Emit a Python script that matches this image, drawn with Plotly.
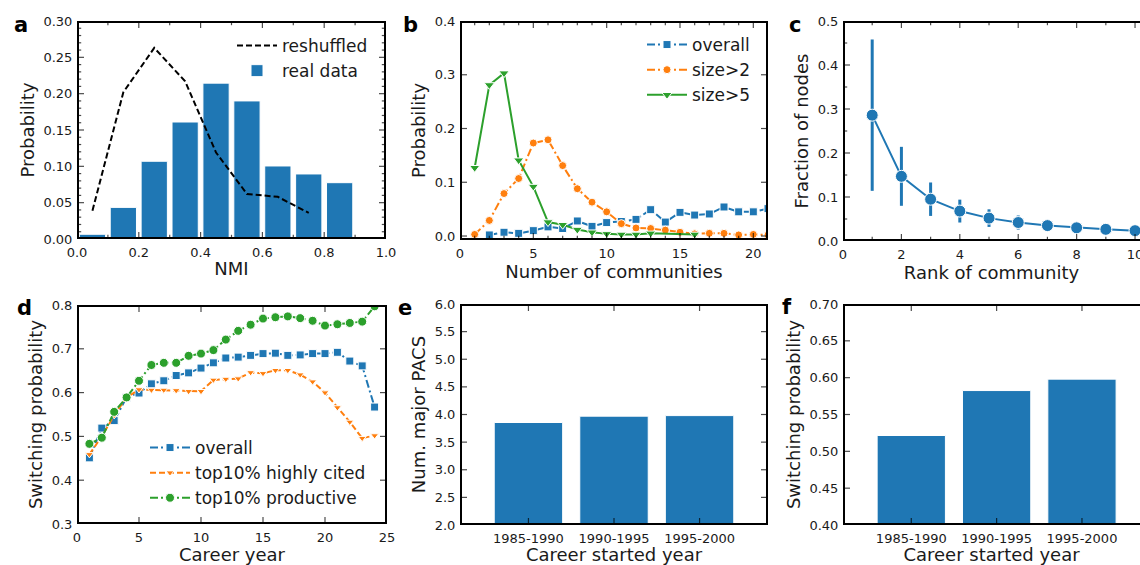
import plotly.graph_objects as go

W, H = 1140, 565

# ---------------- data ----------------
nmi_bins = [0.05, 0.15, 0.25, 0.35, 0.45, 0.55, 0.65, 0.75, 0.85]
nmi_real = [0.0065, 0.0435, 0.107, 0.161, 0.2145, 0.190, 0.1005, 0.0895, 0.0775]
nmi_shuf_x = [0.05, 0.15, 0.25, 0.35, 0.45, 0.55, 0.65, 0.75]
nmi_shuf = [0.039, 0.202, 0.263, 0.217, 0.119, 0.062, 0.058, 0.036]

nc_overall_x = list(range(2, 22))
nc_overall = [0.002, 0.007, 0.005, 0.010, 0.017, 0.014, 0.028, 0.018, 0.025, 0.027,
              0.031, 0.049, 0.026, 0.044, 0.039, 0.041, 0.054, 0.045, 0.045, 0.051]
nc_size2_x = list(range(1, 22))
nc_size2 = [0.003, 0.029, 0.079, 0.107, 0.173, 0.179, 0.131, 0.088, 0.063, 0.045, 0.023,
            0.015, 0.014, 0.011, 0.007, 0.004, 0.005, 0.005, 0.002, 0.003, 0.002]
nc_size5_x = [1, 2, 3, 4, 5, 6, 7, 8, 9, 10, 11, 12, 13, 16]
nc_size5 = [0.127, 0.281, 0.303, 0.141, 0.092, 0.026, 0.021, 0.012, 0.007, 0.004,
            0.003, 0.003, 0.005, 0.003]

rank = [1, 2, 3, 4, 5, 6, 7, 8, 9, 10]
frac_nodes = [0.286, 0.147, 0.095, 0.068, 0.052, 0.042, 0.035, 0.030, 0.0265, 0.0235]
frac_err = [0.172, 0.067, 0.038, 0.026, 0.020, 0.016, 0.012, 0.010, 0.008, 0.007]

career_year = list(range(1, 25))
sw_overall = [0.451, 0.519, 0.536, 0.589, 0.599, 0.620, 0.627, 0.639, 0.645, 0.656, 0.668, 0.679,
              0.681, 0.685, 0.689, 0.690, 0.685, 0.686, 0.689, 0.689, 0.692, 0.672, 0.661, 0.567]
sw_cited = [0.459, 0.500, 0.548, 0.589, 0.607, 0.606, 0.606, 0.605, 0.603, 0.603, 0.629, 0.631,
            0.632, 0.646, 0.644, 0.651, 0.651, 0.641, 0.625, 0.600, 0.566, 0.533, 0.496, 0.502]
sw_prod = [0.483, 0.497, 0.556, 0.589, 0.627, 0.663, 0.668, 0.668, 0.684, 0.689, 0.697, 0.721,
           0.741, 0.755, 0.769, 0.772, 0.774, 0.770, 0.764, 0.753, 0.756, 0.759, 0.762, 0.797]

start_periods = ["1985-1990", "1990-1995", "1995-2000"]
start_pos = [0, 1, 2]
num_pacs = [3.855, 3.97, 3.98]
sw_by_start = [0.5215, 0.5825, 0.598]

# axis ranges
range_a_x, range_a_y = [0, 1.0], [0, 0.30]
range_b_x, range_b_y = [0, 21], [-0.0074, 0.4]
range_c_x, range_c_y = [0, 10.17], [0, 0.5]
range_d_x, range_d_y = [0, 25], [0.3, 0.8]
range_e_x, range_e_y = [-0.8, 2.8], [2.0, 6.0]
range_f_x, range_f_y = [-0.8, 2.68], [0.40, 0.70]

# tick values (major, minor)
ticks_a_x = [0.0, 0.2, 0.4, 0.6, 0.8, 1.0]
ticks_a_x_minor = [0.1, 0.3, 0.5, 0.7, 0.9]
ticks_a_y = [0.0, 0.05, 0.10, 0.15, 0.20, 0.25, 0.30]
ticks_a_y_minor = [0.01, 0.02, 0.03, 0.04, 0.06, 0.07, 0.08, 0.09, 0.11, 0.12, 0.13, 0.14,
                   0.16, 0.17, 0.18, 0.19, 0.21, 0.22, 0.23, 0.24, 0.26, 0.27, 0.28, 0.29]
ticks_b_x = [0, 5, 10, 15, 20]
ticks_b_x_minor = [1, 2, 3, 4, 6, 7, 8, 9, 11, 12, 13, 14, 16, 17, 18, 19, 21]
ticks_b_y = [0.0, 0.1, 0.2, 0.3, 0.4]
ticks_c_x = [0, 2, 4, 6, 8, 10]
ticks_c_x_minor = [1, 3, 5, 7, 9]
ticks_c_y = [0.0, 0.1, 0.2, 0.3, 0.4, 0.5]
ticks_c_y_minor = [0.05, 0.15, 0.25, 0.35, 0.45]
ticks_d_x = [0, 5, 10, 15, 20, 25]
ticks_d_y = [0.3, 0.4, 0.5, 0.6, 0.7, 0.8]
ticks_e_y = [2.0, 2.5, 3.0, 3.5, 4.0, 4.5, 5.0, 5.5, 6.0]
ticks_f_y = [0.40, 0.45, 0.50, 0.55, 0.60, 0.65, 0.70]

# ---------------- style ----------------
BLUE, ORANGE, GREEN = "#1f77b4", "#ff7f0e", "#2ca02c"
FONT = "DejaVu Sans"
TXT = "#1a1a1a"
DASHDOT = "8px,3px,2px,3px"
MAJ, MIN = 10, 6   # marker sizes for tick marks (half of it is visible inside the frame)


def xd(x0, x1):
    return [x0 / W, min(x1 / W, 1.0)]


def yd(top, bottom):
    return [1 - bottom / H, 1 - top / H]


def ax(domain, rng, title, standoff=4, **kw):
    d = dict(domain=domain, range=rng, showline=True, linewidth=2, linecolor="rgba(0,0,0,0)",
             ticks="inside", ticklen=5, tickwidth=1, tickcolor="rgba(0,0,0,0)",
             tickfont=dict(family=FONT, size=13, color=TXT), showgrid=False, zeroline=False,
             automargin=False,
             title=dict(text=title, font=dict(family=FONT, size=18, color=TXT), standoff=standoff))
    d.update(kw)
    return d


fig = go.Figure()

# ---- a ----
fig.add_trace(go.Bar(x=nmi_bins, y=nmi_real, width=0.085, name="real data",
                     marker=dict(color=BLUE, line=dict(color="white", width=1)),
                     xaxis="x", yaxis="y", legend="legend"))
fig.add_trace(go.Scatter(x=nmi_shuf_x, y=nmi_shuf, mode="lines", name="reshuffled",
                         line=dict(color="black", width=2, dash="6px,3px"),
                         xaxis="x", yaxis="y", legend="legend"))

# ---- b ----
mk_line = dict(color="white", width=1)
fig.add_trace(go.Scatter(x=nc_overall_x, y=nc_overall, mode="lines+markers", name="overall",
                         line=dict(color=BLUE, width=2, dash=DASHDOT),
                         marker=dict(symbol="square", size=8, color=BLUE, line=mk_line),
                         xaxis="x2", yaxis="y2", legend="legend2"))
fig.add_trace(go.Scatter(x=nc_size2_x, y=nc_size2, mode="lines+markers", name="size>2",
                         line=dict(color=ORANGE, width=2, dash=DASHDOT),
                         marker=dict(symbol="circle", size=8, color=ORANGE, line=mk_line),
                         xaxis="x2", yaxis="y2", legend="legend2"))
fig.add_trace(go.Scatter(x=nc_size5_x, y=nc_size5, mode="lines+markers", name="size>5",
                         line=dict(color=GREEN, width=2),
                         marker=dict(symbol="triangle-down", size=9, color=GREEN, line=mk_line),
                         xaxis="x2", yaxis="y2", legend="legend2"))

# ---- c ----
fig.add_trace(go.Scatter(x=rank, y=frac_nodes, mode="lines+markers", showlegend=False,
                         line=dict(color=BLUE, width=2),
                         marker=dict(symbol="circle", size=12, color=BLUE, line=mk_line),
                         error_y=dict(type="data", array=frac_err, color=BLUE, thickness=3, width=0),
                         xaxis="x3", yaxis="y3"))

# ---- d ----
fig.add_trace(go.Scatter(x=career_year, y=sw_overall, mode="lines+markers", name="overall",
                         line=dict(color=BLUE, width=2, dash=DASHDOT),
                         marker=dict(symbol="square", size=8, color=BLUE, line=mk_line),
                         xaxis="x4", yaxis="y4", legend="legend3"))
fig.add_trace(go.Scatter(x=career_year, y=sw_cited, mode="lines+markers", name="top10% highly cited",
                         line=dict(color=ORANGE, width=2, dash="6px,3px"),
                         marker=dict(symbol="triangle-down", size=7, color=ORANGE, line=mk_line),
                         xaxis="x4", yaxis="y4", legend="legend3"))
fig.add_trace(go.Scatter(x=career_year, y=sw_prod, mode="lines+markers", name="top10% productive",
                         line=dict(color=GREEN, width=2, dash=DASHDOT),
                         marker=dict(symbol="circle", size=9, color=GREEN, line=mk_line),
                         xaxis="x4", yaxis="y4", legend="legend3"))

# ---- e ----
fig.add_trace(go.Bar(x=start_pos, y=num_pacs, width=0.8, showlegend=False,
                     marker=dict(color=BLUE, line=dict(color="white", width=1)),
                     xaxis="x5", yaxis="y5"))
# ---- f ----
fig.add_trace(go.Bar(x=start_pos, y=sw_by_start, width=0.8, showlegend=False,
                     marker=dict(color=BLUE, line=dict(color="white", width=1)),
                     xaxis="x6", yaxis="y6"))


# ---- frames and inward tick marks, drawn on each subplot's own scales ----
def frame_and_ticks(xa, ya, xr, yr, xt, yt, xt_min=(), yt_min=(), closed=True):
    x0, x1 = xr
    y0, y1 = yr
    if closed:
        fx, fy = [x0, x1, x1, x0, x0], [y0, y0, y1, y1, y0]
    else:
        fx, fy = [x1, x0, x0, x1], [y1, y1, y0, y0]
    fig.add_trace(go.Scatter(x=fx, y=fy, mode="lines", line=dict(color="black", width=4),
                             showlegend=False, hoverinfo="skip", xaxis=xa, yaxis=ya))
    xs, ys, sym, size = [], [], [], []
    for vals, s in ((xt, MAJ), (xt_min, MIN)):
        for v in vals:
            for yy in (y0, y1):
                xs.append(v); ys.append(yy); sym.append("line-ns"); size.append(s)
    ysides = (x0, x1) if closed else (x0,)
    for vals, s in ((yt, MAJ), (yt_min, MIN)):
        for v in vals:
            for xx in ysides:
                xs.append(xx); ys.append(v); sym.append("line-ew"); size.append(s)
    fig.add_trace(go.Scatter(x=xs, y=ys, mode="markers", showlegend=False, hoverinfo="skip",
                             marker=dict(symbol=sym, size=size, color="black",
                                         line=dict(color="black", width=1.2)),
                             cliponaxis=True, xaxis=xa, yaxis=ya))


frame_and_ticks("x", "y", range_a_x, range_a_y, ticks_a_x, ticks_a_y, ticks_a_x_minor, ticks_a_y_minor)
frame_and_ticks("x2", "y2", range_b_x, range_b_y, ticks_b_x, ticks_b_y, ticks_b_x_minor)
frame_and_ticks("x3", "y3", range_c_x, range_c_y, ticks_c_x, ticks_c_y, ticks_c_x_minor, ticks_c_y_minor,
                closed=False)
frame_and_ticks("x4", "y4", range_d_x, range_d_y, ticks_d_x, ticks_d_y)
frame_and_ticks("x5", "y5", range_e_x, range_e_y, start_pos, ticks_e_y)
frame_and_ticks("x6", "y6", range_f_x, range_f_y, start_pos, ticks_f_y, closed=False)

layout = dict(
    template="none",
    width=W, height=H, margin=dict(l=0, r=0, t=0, b=0),
    paper_bgcolor="white", plot_bgcolor="white", showlegend=True,
    font=dict(family=FONT, color=TXT),
    barmode="overlay",
    xaxis=ax(xd(77, 386), range_a_x, "NMI", anchor="y", tickvals=ticks_a_x, tickformat=".1f"),
    yaxis=ax(yd(21, 239), range_a_y, "Probability", anchor="x", tickvals=ticks_a_y, tickformat=".2f"),
    xaxis2=ax(xd(460, 768), range_b_x, "Number of communities", anchor="y2", tickvals=ticks_b_x),
    yaxis2=ax(yd(21, 240), range_b_y, "Probability", anchor="x2", tickvals=ticks_b_y, tickformat=".1f"),
    xaxis3=ax(xd(843, 1140), range_c_x, "Rank of community", anchor="y3", tickvals=ticks_c_x,
              ticklabeloverflow="allow"),
    yaxis3=ax(yd(21, 241), range_c_y, "Fraction of nodes", anchor="x3", tickvals=ticks_c_y,
              tickformat=".1f"),
    xaxis4=ax(xd(77, 387), range_d_x, "Career year", anchor="y4", tickvals=ticks_d_x),
    yaxis4=ax(yd(305, 524), range_d_y, "Switching probability", anchor="x4", tickvals=ticks_d_y,
              tickformat=".1f"),
    xaxis5=ax(xd(460, 768), range_e_x, "Career started year", anchor="y5", tickvals=start_pos,
              ticktext=start_periods),
    yaxis5=ax(yd(304, 525), range_e_y, "Num. major PACS", anchor="x5", tickvals=ticks_e_y,
              tickformat=".1f"),
    xaxis6=ax(xd(843, 1140), range_f_x, "Career started year", anchor="y6", tickvals=start_pos,
              ticktext=start_periods),
    yaxis6=ax(yd(304, 525), range_f_y, "Switching probability", anchor="x6", tickvals=ticks_f_y,
              tickformat=".2f"),
    legend=dict(x=232 / W, y=1 - 28 / H, xanchor="left", yanchor="top", bgcolor="rgba(0,0,0,0)",
                font=dict(family=FONT, size=17, color=TXT), traceorder="reversed", itemwidth=40),
    legend2=dict(x=642 / W, y=1 - 27 / H, xanchor="left", yanchor="top", bgcolor="rgba(0,0,0,0)",
                 font=dict(family=FONT, size=17, color=TXT), itemwidth=40),
    legend3=dict(x=145 / W, y=1 - 430 / H, xanchor="left", yanchor="top", bgcolor="rgba(0,0,0,0)",
                 font=dict(family=FONT, size=17, color=TXT), itemwidth=40),
)
fig.update_layout(**layout)

letters = [("a", 21, 25), ("b", 410, 25), ("c", 795, 25), ("d", 24, 308), ("e", 405, 308), ("f", 787, 307)]
for t, lx, ly in letters:
    fig.add_annotation(text="<b>%s</b>" % t, x=lx / W, y=1 - ly / H, xref="paper", yref="paper",
                       xanchor="center", yanchor="middle", showarrow=False,
                       font=dict(family=FONT, size=21, color="black"))

fig.write_html("out.html")
